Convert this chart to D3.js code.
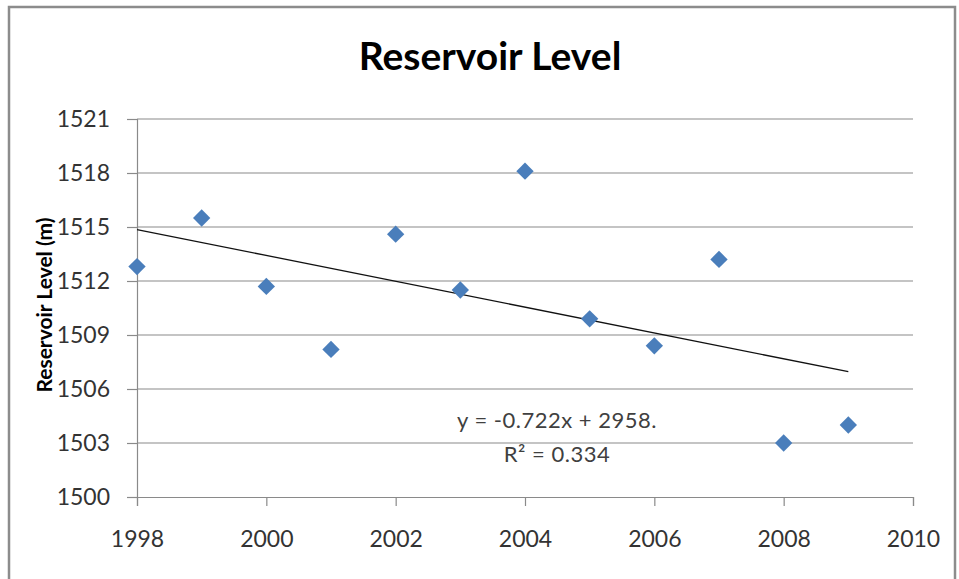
<!DOCTYPE html>
<html>
<head>
<meta charset="utf-8">
<script src="https://cdn.jsdelivr.net/npm/d3@7"></script>
<style>
  body { margin: 0; background: #fff; }
  text { font-family: Lato, "Noto Sans", sans-serif; }
</style>
</head>
<body>
<div id="chart"></div>
<script>
// Data
var years = [1998, 1999, 2000, 2001, 2002, 2003, 2004, 2005, 2006, 2007, 2008, 2009];
var levels = [1512.8, 1515.5, 1511.7, 1508.2, 1514.6, 1511.5, 1518.1, 1509.9, 1508.4, 1513.2, 1503.0, 1504.0];
var xTicks = [1998, 2000, 2002, 2004, 2006, 2008, 2010];
var yTicks = [1500, 1503, 1506, 1509, 1512, 1515, 1518, 1521];
var trendLabel = "y = -0.722x + 2958.";
var r2Label = "R\u00b2 = 0.334";

var W = 959, H = 579;
var margin = {top: 119, right: 46, bottom: 82, left: 137},
	width = W - margin.left - margin.right,
	height = H - margin.top - margin.bottom;

var svg = d3.select("#chart")
	.append("svg")
	.attr("width", W)
	.attr("height", H);

// chart border
svg.append("rect")
	.attr("x", 9).attr("y", 7)
	.attr("width", 946).attr("height", 590)
	.attr("fill", "none")
	.attr("stroke", "#8c8c8c")
	.attr("stroke-width", 2.5);

var g = svg.append("g")
	.attr("transform", "translate(" + margin.left + "," + margin.top + ")");

var x = d3.scaleLinear().domain([1998, 2010]).range([0, width]);
var y = d3.scaleLinear().domain([1500, 1521]).range([height, 0]);

// horizontal gridlines
g.selectAll(".grid")
	.data(yTicks.slice(1))
	.enter()
	.append("line")
	.attr("x1", 0).attr("x2", width)
	.attr("y1", function(d) { return y(d); })
	.attr("y2", function(d) { return y(d); })
	.attr("stroke", "#8a8a8a")
	.attr("stroke-width", 1.2);

// y axis
var yAxis = g.append("g")
	.call(d3.axisLeft(y).tickValues(yTicks).tickSize(10).tickPadding(17).tickFormat(d3.format("d")));
yAxis.select(".domain").attr("stroke", "#8a8a8a").attr("stroke-width", 1.2);
yAxis.selectAll(".tick line").attr("stroke", "#8a8a8a").attr("stroke-width", 1.2);
yAxis.selectAll("text")
	.style("font-size", "23px")
	.attr("fill", "#333");

// x axis
var xAxis = g.append("g")
	.attr("transform", "translate(0," + height + ")")
	.call(d3.axisBottom(x).tickValues(xTicks).tickSize(9).tickPadding(25).tickFormat(d3.format("d")));
xAxis.select(".domain").attr("stroke", "#8a8a8a").attr("stroke-width", 1.2);
xAxis.selectAll(".tick line").attr("stroke", "#8a8a8a").attr("stroke-width", 1.2);
xAxis.selectAll("text")
	.style("font-size", "23px")
	.attr("fill", "#333");

// linear trend line (least squares)
var mx = d3.mean(years), my = d3.mean(levels);
var sxy = d3.sum(years, function(d, i) { return (d - mx) * (levels[i] - my); });
var sxx = d3.sum(years, function(d) { return (d - mx) * (d - mx); });
var slope = sxy / sxx, icept = my - slope * mx;
var x0 = d3.min(years), x1 = d3.max(years);
g.append("line")
	.attr("x1", x(x0)).attr("y1", y(icept + slope * x0))
	.attr("x2", x(x1)).attr("y2", y(icept + slope * x1))
	.attr("stroke", "#111")
	.attr("stroke-width", 1.3);

// points
var diamond = d3.symbol().type(d3.symbolSquare).size(150);
g.selectAll(".pt")
	.data(years)
	.enter()
	.append("path")
	.attr("d", diamond)
	.attr("transform", function(d, i) { return "translate(" + x(d) + "," + y(levels[i]) + ") rotate(45)"; })
	.attr("fill", "#4a7ebb");

// trend equation
g.append("text")
	.attr("x", 557 - margin.left).attr("y", 428 - margin.top)
	.attr("text-anchor", "middle")
	.style("font-size", "22px")
	.style("letter-spacing", "0.5px")
	.attr("fill", "#404040")
	.text(trendLabel);
g.append("text")
	.attr("x", 557 - margin.left).attr("y", 462 - margin.top)
	.attr("text-anchor", "middle")
	.style("font-size", "22px")
	.style("letter-spacing", "0.5px")
	.attr("fill", "#404040")
	.text(r2Label);

// title
svg.append("text")
	.attr("x", 490).attr("y", 70)
	.attr("text-anchor", "middle")
	.style("font-size", "39px")
	.style("font-weight", "bold")
	.attr("fill", "#000")
	.text("Reservoir Level");

// y axis title
svg.append("text")
	.attr("transform", "translate(52,305) rotate(-90)")
	.attr("text-anchor", "middle")
	.style("font-size", "21px")
	.style("font-weight", "bold")
	.attr("fill", "#000")
	.text("Reservoir Level (m)");
</script>
</body>
</html>
